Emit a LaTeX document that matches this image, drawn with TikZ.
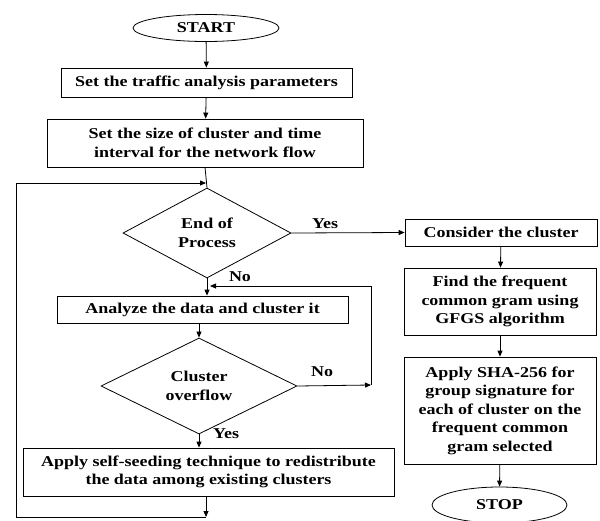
\documentclass[tikz,border=0pt]{standalone}
\usepackage{fontspec}
\setmainfont{Liberation Serif}[FakeStretch=1.2]
\usetikzlibrary{shapes.geometric,arrows.meta}
\begin{document}
\begin{tikzpicture}[x=1pt,y=-1pt,
  every node/.style={font=\bfseries\fontsize{15}{18.5}\selectfont},
  box/.style={draw,rectangle,line width=0.8pt,align=center,inner sep=1pt},
  term/.style={draw,ellipse,line width=0.8pt,inner sep=0pt},
  decision/.style={draw,diamond,line width=0.8pt,align=center,inner sep=0pt},
  flow/.style={line width=0.8pt,-{Triangle[length=6pt,width=5pt]}},
  plain/.style={line width=0.8pt},
  lbl/.style={inner sep=1pt}]
\useasboundingbox (0,0) rectangle (600,520);
\node[term,minimum width=146pt,minimum height=27pt] (start) at (206,28) {START};
\node[box,minimum width=291pt,minimum height=29pt] (b1) at (206.5,82.5) {Set the traffic analysis parameters};
\node[box,minimum width=316pt,minimum height=48pt] (b2) at (205,143) {Set the size of cluster and time\\interval for the network flow};
\node[decision,minimum width=168pt,minimum height=90pt] (d1) at (207,233) {End of\\Process};
\node[box,minimum width=291pt,minimum height=27pt] (b3) at (202.5,309.5) {Analyze the data and cluster it};
\node[decision,minimum width=196pt,minimum height=80pt] (d2) at (199,386) {Cluster\\overflow};
\node[box,minimum width=371pt,minimum height=48pt] (b4) at (208.5,472) {Apply self-seeding technique to redistribute\\the data among existing clusters};
\node[box,minimum width=192pt,minimum height=27pt] (c1) at (501,232.5) {Consider the cluster};
\node[box,minimum width=192pt,minimum height=67pt] (c2) at (500,301.5) {Find the frequent\\common gram using\\GFGS algorithm};
\node[box,minimum width=192pt,minimum height=107pt] (c3) at (500,410.5) {Apply SHA-256 for\\group signature for\\each of cluster on the\\frequent common\\gram selected};
\node[term,minimum width=135pt,minimum height=36pt] (stop) at (499.5,505) {STOP};

\node[lbl] (yes1) at (325,224) {Yes};
\node[lbl] (no1) at (240,277) {No};
\node[lbl] (no2) at (322,372) {No};
\node[lbl] (yes2) at (226,434) {Yes};

\coordinate (top) at (206,183);
\coordinate (bl) at (206,517);
\coordinate (blx) at (16,517);
\coordinate (tlx) at (16,183);
\coordinate (r1) at (371,385);
\coordinate (r2) at (371,286);
\coordinate (r3) at (210,286);

\draw[flow] (start) -- (b1);
\draw[flow] (b1) -- (b2);
\draw[plain] (b2.south) -- (d1.north);
\draw[flow] (tlx) -- (top);
\draw[flow] (d1.south) -- (d1.south |- b3.north);
\draw[flow] (d1.east) -- (c1.west);
\draw[flow] (b3.south -| d2.north) -- (d2.north);
\draw[flow] (d2.south) -- (d2.south |- b4.north);
\draw[flow] (d2.east) -- (r1);
\draw[flow] (r1) -- (r2) -- (r3);
\draw[flow] (b4.south -| bl) -- (bl);
\draw[plain] (bl) -- (blx) -- (tlx);
\draw[flow] (c1) -- (c2);
\draw[flow] (c2) -- (c3);
\draw[flow] (c3) -- (stop);
\end{tikzpicture}
\end{document}
